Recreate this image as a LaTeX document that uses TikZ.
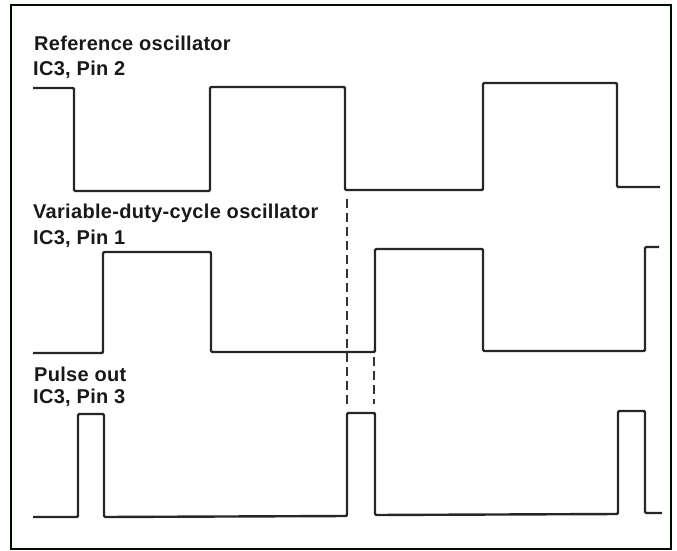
\documentclass[tikz,border=0pt]{standalone}
\usepackage{fontspec}
\setmainfont{Liberation Sans}[LetterSpace=1.5]
\begin{document}
\begin{tikzpicture}[x=1bp,y=-1bp,
  lbl/.style={anchor=base west,inner sep=0pt,font=\fontsize{20bp}{24bp}\selectfont\bfseries,text=black!90},
  wave/.style={line width=2.4bp,line join=round,rounded corners=1.2bp,black!85},
  guide/.style={line width=1.2bp,dash pattern=on 9bp off 5bp,black!80},
  frame/.style={line width=1.4bp,black!85!green!30!black}]
\useasboundingbox (0,0) rectangle (677,551);
\draw[frame] (11,5) rectangle (671,549);
% labels
\node[lbl] (l1a) at (34,51) {Reference oscillator};
\node[lbl] (l1b) at (33,76) {IC3, Pin 2};
\node[lbl] (l2a) at (33,219) {Variable-duty-cycle oscillator};
\node[lbl] (l2b) at (33,245) {IC3, Pin 1};
\node[lbl] (l3a) at (34,381) {Pulse out};
\node[lbl] (l3b) at (33,403) {IC3, Pin 3};
% reference oscillator
\draw[wave] (33,88) -- (74,88) -- (74,191) -- (210,191) -- (210,87) -- (345,87)
  -- (345,190) -- (483,190) -- (483,83) -- (617,83) -- (617,187) -- (660,187);
% variable duty cycle
\draw[wave] (33,353) -- (103,353) -- (103,252) -- (211,252) -- (211,352) -- (375,352)
  -- (375,249) -- (483,249) -- (483,351) -- (645,351) -- (645,247) -- (659,247);
% pulse out
\draw[wave] (33,517) -- (78,517) -- (78,414) -- (104,414) -- (104,517) -- (347,516)
  -- (347,413) -- (375,413) -- (375,515) -- (618,514) -- (618,411) -- (645,411)
  -- (645,513) -- (662,513);
% guides
\coordinate (g1a) at (347,199);
\coordinate (g1b) at (347,404);
\coordinate (g2a) at (374,357);
\coordinate (g2b) at (374,404);
\draw[guide] (g1a) -- (g1b);
\draw[guide] (g2a) -- (g2b);
\end{tikzpicture}
\end{document}
